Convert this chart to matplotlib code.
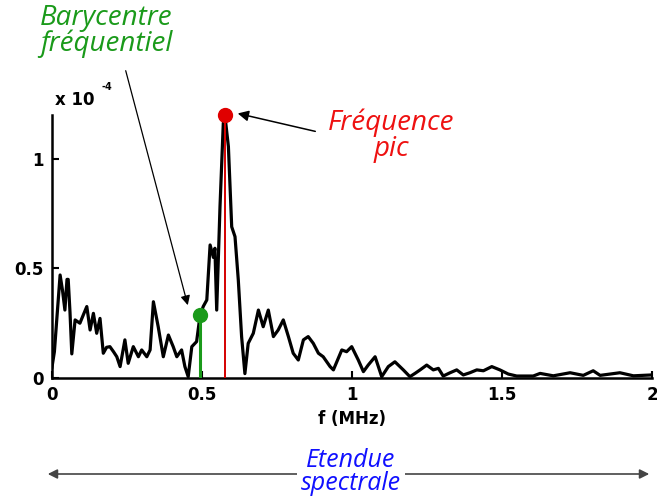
import numpy as np
import matplotlib
matplotlib.use("Agg")
import matplotlib.pyplot as plt

# spectre (f en MHz, amplitude en 1e-4)
freq = [0.0, 0.008, 0.015, 0.027, 0.035, 0.043, 0.05, 0.054, 0.06, 0.066,
        0.077, 0.093, 0.105, 0.116, 0.127, 0.138, 0.149, 0.16, 0.171, 0.182,
        0.193, 0.205, 0.216, 0.227, 0.243, 0.254, 0.271, 0.288, 0.299, 0.316,
        0.327, 0.338, 0.354, 0.371, 0.388, 0.404, 0.416, 0.432, 0.443, 0.454,
        0.466, 0.482, 0.493, 0.504, 0.516, 0.527, 0.538, 0.543, 0.549, 0.56,
        0.571, 0.577, 0.588, 0.599, 0.61, 0.621, 0.632, 0.643, 0.654, 0.671,
        0.688, 0.704, 0.721, 0.738, 0.754, 0.771, 0.788, 0.804, 0.821, 0.838,
        0.854, 0.871, 0.888, 0.904, 0.927, 0.938, 0.966, 0.982, 0.999, 1.021,
        1.038, 1.054, 1.077, 1.099, 1.121, 1.143, 1.171, 1.193, 1.21, 1.227,
        1.249, 1.271, 1.288, 1.304, 1.327, 1.349, 1.371, 1.393, 1.416, 1.438,
        1.466, 1.493, 1.521, 1.549, 1.604, 1.627, 1.671, 1.727, 1.771, 1.804,
        1.827, 1.893, 1.938, 2.0]
amp = [0.05, 0.12, 0.25, 0.47, 0.40, 0.31, 0.45, 0.45, 0.30, 0.11,
       0.265, 0.25, 0.29, 0.326, 0.219, 0.295, 0.204, 0.272, 0.113, 0.14,
       0.143, 0.12, 0.097, 0.052, 0.174, 0.067, 0.143, 0.097, 0.128, 0.097,
       0.128, 0.348, 0.234, 0.097, 0.196, 0.143, 0.097, 0.128, 0.052, 0.006,
       0.143, 0.166, 0.28, 0.326, 0.356, 0.607, 0.55, 0.592, 0.31, 0.782,
       1.163, 1.19, 1.056, 0.69, 0.645, 0.447, 0.189, 0.02, 0.158, 0.204,
       0.31, 0.234, 0.31, 0.189, 0.219, 0.265, 0.189, 0.113, 0.082, 0.174,
       0.189, 0.158, 0.113, 0.097, 0.052, 0.037, 0.128, 0.12, 0.143, 0.082,
       0.029, 0.059, 0.097, 0.006, 0.052, 0.074, 0.037, 0.006, 0.021, 0.037,
       0.059, 0.037, 0.044, 0.009, 0.024, 0.037, 0.014, 0.024, 0.037, 0.033,
       0.052, 0.037, 0.018, 0.009, 0.009, 0.021, 0.01, 0.024, 0.012, 0.033,
       0.012, 0.024, 0.01, 0.014]

f_pic, a_pic = 0.577, 1.2
f_bary, a_bary = 0.493, 0.288

scale = 1e-4
amp = np.array(amp) * scale

fig = plt.figure(figsize=(6.57, 5.01), dpi=100)
ax = fig.add_axes([52/657, 1 - 378/501, 600/657, 263/501])

ax.plot(freq, amp, color="black", lw=2.3, zorder=2)
ax.plot([f_pic, f_pic], [0, a_pic*scale], color="#d40000", lw=1.4, zorder=3)
ax.plot(f_pic, a_pic*scale, "o", color="#e00000", ms=10, zorder=4, clip_on=False)
ax.plot([f_bary, f_bary], [0, a_bary*scale], color="#1a9a1a", lw=2.2, zorder=3)
ax.plot(f_bary, a_bary*scale, "o", color="#1a9a1a", ms=10, zorder=4)

ax.set_xlim(0, 2)
ax.set_ylim(0, 1.2e-4)
ax.set_xticks([0, 0.5, 1, 1.5, 2])
ax.set_xticklabels(["0", "0.5", "1", "1.5", "2"])
ax.set_yticks([0, 0.5e-4, 1e-4])
ax.set_yticklabels(["0", "0.5", "1"])
for s in ["top", "right"]:
    ax.spines[s].set_visible(False)
for s in ["left", "bottom"]:
    ax.spines[s].set_linewidth(1.8)
ax.tick_params(direction="in", length=5, width=1.5, pad=6)
for lab in ax.get_xticklabels() + ax.get_yticklabels():
    lab.set_fontweight("bold")
    lab.set_fontsize(12)
ax.set_xlabel("f (MHz)", fontsize=12, fontweight="bold", labelpad=4)

fig.text(55/657, 1 - 105/501, "x 10", fontsize=12, fontweight="bold")
fig.text(101/657, 1 - 90/501, "-4", fontsize=7, fontweight="bold")

italic = dict(family="Open Sans", style="italic", ha="center", va="center")
fig.text(106/657, 1 - 31/501, "Barycentre\nfréquentiel", color="#1a9a1a",
         fontsize=20, linespacing=0.9, **italic)
fig.text(391/657, 1 - 136/501, "Fréquence\npic", color="#ee1111",
         fontsize=20, linespacing=0.9, **italic)

ax.annotate("", xy=(0.455, 0.32e-4), xytext=(125/657, 1 - 68/501),
            textcoords="figure fraction", annotation_clip=False,
            arrowprops=dict(arrowstyle="-|>", color="black", lw=0.9,
                            mutation_scale=14))
ax.annotate("", xy=(0.61, 1.21e-4), xytext=(318/657, 1 - 132/501),
            textcoords="figure fraction", annotation_clip=False,
            arrowprops=dict(arrowstyle="-|>", color="black", lw=1.1,
                            mutation_scale=16))

fig.patches.append(matplotlib.patches.FancyArrowPatch(
    (45/657, 1 - 474/501), (652/657, 1 - 474/501),
    transform=fig.transFigure, arrowstyle="<|-|>", mutation_scale=14,
    color="#444444", lw=1.2))
fig.text(351/657, 1 - 472/501, "Etendue\nspectrale", color="#1010ff",
         fontsize=18, linespacing=0.85,
         bbox=dict(facecolor="white", edgecolor="none", pad=3), **italic)

fig.savefig("out.png", dpi=100)
